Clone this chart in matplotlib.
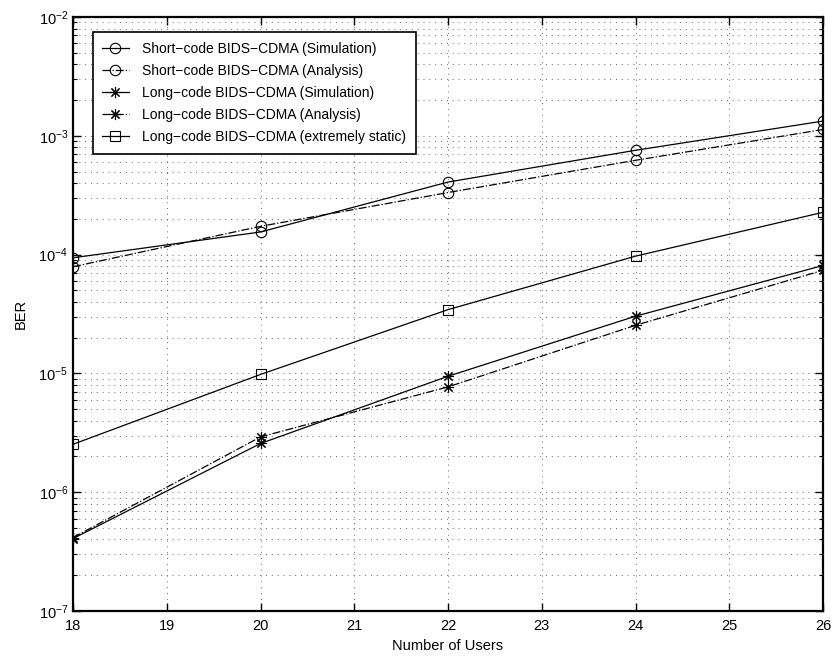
import matplotlib
matplotlib.use('Agg')
import matplotlib.pyplot as plt
from matplotlib.ticker import LogLocator, NullFormatter

plt.rcParams['font.family'] = ['Liberation Sans', 'DejaVu Sans']
plt.rcParams['mathtext.fontset'] = 'custom'
plt.rcParams['mathtext.rm'] = 'Liberation Sans'

# Daten
users = [18, 20, 22, 24, 26]
short_sim = [9.4e-5, 1.55e-4, 4.08e-4, 7.55e-4, 1.33e-3]
short_ana = [7.9e-5, 1.73e-4, 3.33e-4, 6.22e-4, 1.13e-3]
long_sim = [4.07e-7, 2.57e-6, 9.46e-6, 3.03e-5, 8.1e-5]
long_ana = [4.15e-7, 2.92e-6, 7.7e-6, 2.54e-5, 7.38e-5]
long_static = [2.53e-6, 9.8e-6, 3.44e-5, 9.7e-5, 2.27e-4]

labels = ['Short\u2212code BIDS\u2212CDMA (Simulation)',
          'Short\u2212code BIDS\u2212CDMA (Analysis)',
          'Long\u2212code BIDS\u2212CDMA (Simulation)',
          'Long\u2212code BIDS\u2212CDMA (Analysis)',
          'Long\u2212code BIDS\u2212CDMA (extremely static)']

fig = plt.figure(figsize=(8.33, 6.57), dpi=100)
ax = fig.add_axes([73/833, 1 - 611/657, 750/833, 594/657])

star = (8, 2, 0)
kw = dict(color='black', lw=0.9, mfc='none', mec='black', mew=0.8)
ax.semilogy(users, short_sim, '-', marker='o', ms=7.5, label=labels[0], **kw)
ax.semilogy(users, short_ana, '-.', marker='o', ms=7.5, label=labels[1], **kw)
ax.semilogy(users, long_sim, '-', marker=star, ms=8, label=labels[2], **kw)
ax.semilogy(users, long_ana, '-.', marker=star, ms=8, label=labels[3], **kw)
ax.semilogy(users, long_static, '-', marker='s', ms=6.5, label=labels[4], **kw)

ax.set_xlim(18, 26)
ax.set_ylim(1e-7, 1e-2)
ax.set_xticks(range(18, 27))
ax.yaxis.set_major_locator(LogLocator(base=10, numticks=10))
ax.yaxis.set_minor_locator(LogLocator(base=10, subs=range(2, 10), numticks=20))
ax.yaxis.set_minor_formatter(NullFormatter())

ax.grid(True, which='major', ls=(0, (1, 5)), color='0.4', lw=0.7)
ax.grid(True, which='minor', axis='y', ls=(0, (1, 5)), color='0.4', lw=0.7)

ax.tick_params(which='both', direction='in', top=True, right=True, labelsize=10.5)
ax.tick_params(which='major', length=6, width=1)
ax.tick_params(which='minor', length=3, width=0.8)
ax.tick_params(axis='x', pad=6)
for s in ax.spines.values():
    s.set_linewidth(1.6)

ax.set_xlabel('Number of Users', fontsize=10.5, labelpad=4)
ax.set_ylabel('BER', fontsize=10.5, labelpad=8)

leg = ax.legend(loc='upper left', bbox_to_anchor=(0.026, 0.975), fontsize=10,
                fancybox=False, framealpha=1, edgecolor='black',
                handlelength=1.9, handletextpad=1.0, borderpad=0.7,
                labelspacing=0.58, borderaxespad=0)
leg.get_frame().set_linewidth(1.2)

fig.savefig('out.png', dpi=100)
